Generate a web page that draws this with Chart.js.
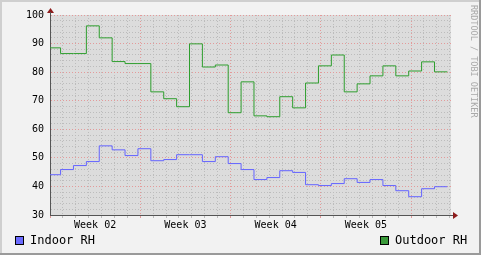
<!DOCTYPE html>
<html>
<head>
<meta charset="utf-8">
<script src="https://cdn.jsdelivr.net/npm/chart.js@4/dist/chart.umd.min.js"></script>
<style>
  html, body { margin: 0; padding: 0; background: #f2f2f2; }
  canvas { display: block; }
</style>
</head>
<body>
<canvas id="rh" width="481" height="255"></canvas>
<script>
// daily samples, one per day, each sample closes its day at ~19:40
const weekLabels = ["Week 02", "Week 03", "Week 04", "Week 05"];
const indoorRH = [44.1, 45.9, 47.3, 48.7, 54.2, 52.8, 50.8, 53.2, 49.0, 49.4, 51.1, 51.1, 48.7, 50.4, 48.0, 45.9,
                  42.4, 43.1, 45.5, 44.9, 40.6, 40.3, 41.0, 42.7, 41.4, 42.4, 40.3, 38.5, 36.4, 39.2, 39.9];
const outdoorRH = [88.5, 86.5, 86.5, 96.2, 92.0, 83.7, 83.0, 83.0, 73.1, 70.7, 67.9, 89.9, 81.8, 82.5, 65.8, 76.6,
                   64.7, 64.4, 71.4, 67.5, 76.2, 82.2, 86.0, 73.1, 75.9, 78.7, 82.2, 78.7, 80.4, 83.6, 80.1];
const yTicks = [30, 40, 50, 60, 70, 80, 90, 100];

const stepEnd = 0.82;   // fraction of the day where each sample ends

function toSteps(values) {
    const pts = [{ x: stepEnd - 1, y: values[0] }];
    values.forEach((v, i) => pts.push({ x: i + stepEnd, y: v }));
    return pts;
}

const MINOR = "#bcbcbc";
const MAJOR = "#e39a9a";
const FONT = "DejaVu Sans Mono";

const rrdFrame = {
    id: "rrdFrame",
    beforeDraw(chart) {
        const { ctx, chartArea: a, width, height } = chart;
        ctx.save();
        ctx.fillStyle = "#f2f2f2";
        ctx.fillRect(0, 0, width, height);
        ctx.fillStyle = "#cfcfcf";
        ctx.fillRect(0, 0, width, 2);
        ctx.fillRect(0, 0, 2, height);
        ctx.fillStyle = "#9a9a9a";
        ctx.fillRect(0, height - 2, width, 2);
        ctx.fillRect(width - 2, 0, 2, height);
        ctx.fillStyle = "#dcdcdc";
        ctx.fillRect(a.left, a.top, a.right - a.left, a.bottom - a.top);
        ctx.restore();
    },
    afterDraw(chart) {
        const { ctx, chartArea: a } = chart;
        ctx.save();
        // axis arrows
        ctx.fillStyle = "#8e1c1c";
        ctx.beginPath();
        ctx.moveTo(a.left + 0.5, a.top - 7);
        ctx.lineTo(a.left - 3, a.top - 2);
        ctx.lineTo(a.left + 4, a.top - 2);
        ctx.closePath();
        ctx.fill();
        ctx.strokeStyle = "#555";
        ctx.lineWidth = 1;
        ctx.beginPath();
        ctx.moveTo(a.left + 0.5, a.top - 3);
        ctx.lineTo(a.left + 0.5, a.top);
        ctx.moveTo(a.right, a.bottom + 0.5);
        ctx.lineTo(a.right + 3, a.bottom + 0.5);
        ctx.stroke();
        ctx.beginPath();
        ctx.moveTo(a.right + 7, a.bottom + 0.5);
        ctx.lineTo(a.right + 2, a.bottom - 3);
        ctx.lineTo(a.right + 2, a.bottom + 4);
        ctx.closePath();
        ctx.fill();

        // legend
        ctx.font = "12px '" + FONT + "'";
        ctx.textBaseline = "middle";
        const ly = 241;
        const items = [
            { ds: chart.data.datasets[0], x: 15 },
            { ds: chart.data.datasets[1], x: 380 }
        ];
        items.forEach(it => {
            ctx.fillStyle = it.ds.legendColor;
            ctx.fillRect(it.x, ly - 5, 9, 9);
            ctx.strokeStyle = "#000";
            ctx.strokeRect(it.x + 0.5, ly - 4.5, 8, 8);
            ctx.fillStyle = "#000";
            ctx.fillText(it.ds.label, it.x + 15, ly);
        });

        // watermark
        ctx.translate(470, 5);
        ctx.rotate(Math.PI / 2);
        ctx.font = "8.5px '" + FONT + "'";
        ctx.fillStyle = "#a9a9a9";
        ctx.textBaseline = "middle";
        ctx.fillText("RRDTOOL / TOBI OETIKER", 0, -3);
        ctx.restore();
    }
};

new Chart(document.getElementById("rh"), {
    type: "line",
    data: {
        datasets: [{
            label: "Indoor RH",
            data: toSteps(indoorRH),
            borderColor: "#6464ff",
            legendColor: "#6b6bff",
            borderWidth: 1,
            pointRadius: 0,
            stepped: "after"
        }, {
            label: "Outdoor RH",
            data: toSteps(outdoorRH),
            borderColor: "#2e9e2e",
            legendColor: "#3a9a3a",
            borderWidth: 1,
            pointRadius: 0,
            stepped: "after"
        }]
    },
    options: {
        responsive: false,
        animation: false,
        events: [],
        layout: { padding: { left: 0, top: 15, right: 30, bottom: 0 } },
        plugins: { legend: { display: false }, tooltip: { enabled: false } },
        scales: {
            x: {
                type: "linear",
                min: 0,
                max: 31.1,
                afterBuildTicks(scale) {
                    const t = [];
                    for (let d = 0; d <= 31; d++) t.push({ value: d });
                    weekLabels.forEach((_, i) => t.push({ value: i * 7 + 3.5 }));
                    t.sort((a, b) => a.value - b.value);
                    scale.ticks = t;
                },
                afterFit(scale) { scale.height = 40; },
                ticks: {
                    autoSkip: false,
                    maxRotation: 0,
                    padding: 1,
                    color: "#000",
                    font: { family: FONT, size: 10 },
                    callback(v) {
                        const w = (v - 3.5) / 7;
                        return Number.isInteger(w) ? weekLabels[w] : "";
                    }
                },
                grid: {
                    drawTicks: true,
                    tickLength: 3,
                    color(c) {
                        const v = c.tick.value;
                        if (!Number.isInteger(v)) return "rgba(0,0,0,0)";
                        return v % 7 === 0 ? MAJOR : MINOR;
                    },
                    tickColor(c) {
                        const v = c.tick.value;
                        if (!Number.isInteger(v)) return "rgba(0,0,0,0)";
                        return v % 7 === 0 ? MAJOR : MINOR;
                    }
                },
                border: { color: "#555", width: 1, dash: [1, 2] }
            },
            y: {
                min: 30,
                max: 100,
                afterFit(scale) { scale.width = 50; },
                ticks: {
                    stepSize: 2,
                    autoSkip: false,
                    padding: 6,
                    color: "#000",
                    font: { family: FONT, size: 10 },
                    callback(v) { return yTicks.includes(v) ? String(v) : ""; }
                },
                grid: {
                    drawTicks: false,
                    color(c) { return c.tick.value % 10 === 0 ? MAJOR : MINOR; }
                },
                border: { color: "#555", width: 1, dash: [1, 2] }
            }
        }
    },
    plugins: [rrdFrame]
});
</script>
</body>
</html>
